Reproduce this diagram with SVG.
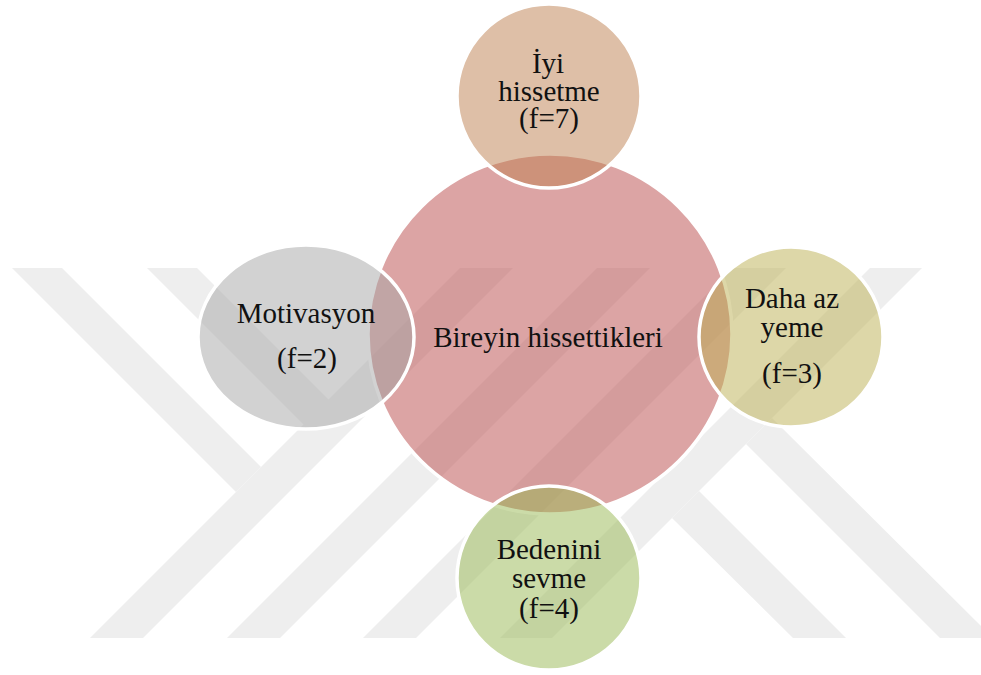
<svg xmlns="http://www.w3.org/2000/svg" width="981" height="675" viewBox="0 0 981 675">
  <style>
    .wm { fill: #eeeeee; }
    .node { fill-opacity: 0.5; stroke: #ffffff; stroke-width: 3.5; }
    .lbl { font-family: "Liberation Serif", "Times New Roman", serif; font-size: 29px; fill: #111111; text-anchor: middle; }
  </style>
  <rect x="0" y="0" width="981" height="675" fill="#ffffff"/>
  <g id="watermark">
    <polygon class="wm" points="90,638 143,638 513,268 460,268"/>
    <polygon class="wm" points="12,268 62,268 261,467 236,492"/>
    <polygon class="wm" points="147,268 197,268 329,400 304,425"/>
    <polygon class="wm" points="227,638 280,638 650,268 597,268"/>
    <polygon class="wm" points="363,638 416,638 786,268 733,268"/>
    <polygon class="wm" points="870,268 922,268 552,638 500,638"/>
    <polygon class="wm" points="672,518 699,491 846,638 793,638"/>
    <polygon class="wm" points="746,444 772,418 993,638 940,638"/>
  </g>
  <g id="node-center">
    <ellipse class="node" cx="550" cy="334" rx="182" ry="180" fill="#b94949"/>
    <text class="lbl" x="548" y="347">Bireyin hissettikleri</text>
  </g>
  <g id="node-top">
    <circle class="node" cx="549" cy="96" r="92" fill="#bd7f4f"/>
    <text class="lbl" x="548" y="73">İyi</text>
    <text class="lbl" x="549" y="101">hissetme</text>
    <text class="lbl" x="549" y="128">(f=7)</text>
  </g>
  <g id="node-left">
    <ellipse class="node" cx="306" cy="337" rx="108" ry="92" fill="#a5a5a5"/>
    <text class="lbl" x="306" y="323">Motivasyon</text>
    <text class="lbl" x="307" y="368">(f=2)</text>
  </g>
  <g id="node-right">
    <ellipse class="node" cx="791" cy="337" rx="92" ry="90" fill="#bbaf51"/>
    <text class="lbl" x="792" y="308">Daha az</text>
    <text class="lbl" x="792" y="337">yeme</text>
    <text class="lbl" x="792" y="383">(f=3)</text>
  </g>
  <g id="node-bottom">
    <circle class="node" cx="549" cy="578" r="92" fill="#97b751"/>
    <text class="lbl" x="549" y="559">Bedenini</text>
    <text class="lbl" x="549" y="588">sevme</text>
    <text class="lbl" x="549" y="618">(f=4)</text>
  </g>
</svg>
